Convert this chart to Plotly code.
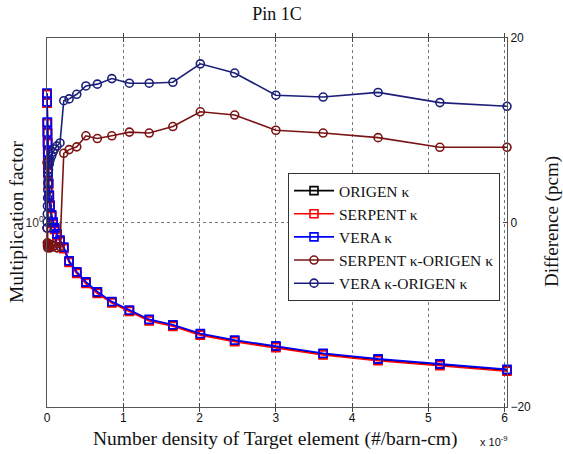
import plotly.graph_objects as go

# Number density (units of 1e-9 #/barn-cm)
density = [0, 0.002, 0.004, 0.006, 0.008, 0.01, 0.012, 0.015, 0.02, 0.03, 0.04, 0.06, 0.08,
           0.1, 0.13, 0.17, 0.22, 0.29, 0.39, 0.51, 0.66, 0.85, 1.08, 1.34, 1.65, 2.01,
           2.46, 3.0, 3.62, 4.34, 5.15, 6.03]

k_vera = [1.627, 1.574, 1.458, 1.405, 1.353, 1.303, 1.255, 1.209, 1.160, 1.109, 1.068, 1.029,
          1.002, 0.980, 0.958, 0.936, 0.912, 0.866, 0.831, 0.800, 0.771, 0.743, 0.720, 0.695,
          0.681, 0.659, 0.643, 0.629, 0.612, 0.599, 0.588, 0.576]
k_serpent = [1.617, 1.565, 1.449, 1.397, 1.345, 1.295, 1.247, 1.202, 1.153, 1.102, 1.062, 1.023,
             0.996, 0.974, 0.952, 0.930, 0.906, 0.861, 0.826, 0.795, 0.766, 0.739, 0.716, 0.691,
             0.677, 0.655, 0.639, 0.625, 0.608, 0.595, 0.584, 0.572]
k_origen = [1.622, 1.569, 1.454, 1.401, 1.349, 1.299, 1.251, 1.205, 1.157, 1.106, 1.065, 1.026,
            0.999, 0.977, 0.955, 0.933, 0.909, 0.863, 0.828, 0.798, 0.769, 0.741, 0.718, 0.693,
            0.679, 0.657, 0.641, 0.627, 0.610, 0.597, 0.586, 0.574]

diff_serpent = [6.5, -0.6, -2.2, -2.55, -2.3, -2.75, -2.4, -2.6, -2.3, -2.55, -2.75, -2.4, -2.6,
                -2.5, -2.75, -2.6, 7.5, 7.9, 8.2, 9.4, 9.1, 9.4, 9.8, 9.7, 10.4, 12.0, 11.65,
                10.0, 9.7, 9.2, 8.15, 8.15]
diff_vera = [-0.6, 0.05, 0.92, 1.79, 2.66, 3.52, 4.28, 5.04, 5.69, 6.34, 6.78, 7.21, 7.64,
             7.97, 8.29, 8.62, 13.2, 13.4, 13.9, 14.8, 15.0, 15.6, 15.1, 15.1, 15.2, 17.2, 16.2,
             13.8, 13.6, 14.1, 13.0, 12.6]

SERIF = "Liberation Serif, Times New Roman, serif"
SANS = "Liberation Sans, Arial, sans-serif"

fig = go.Figure()

def add_k(y, name, color):
    fig.add_trace(go.Scatter(x=density, y=y, name=name, mode="lines+markers", cliponaxis=False,
                             line=dict(color=color, width=1.6),
                             marker=dict(symbol="square-open", size=8, color=color,
                                         line=dict(width=1.6, color=color))))

def add_d(y, name, color):
    fig.add_trace(go.Scatter(x=density, y=y, name=name, mode="lines+markers", yaxis="y2",
                             cliponaxis=False,
                             line=dict(color=color, width=1.6),
                             marker=dict(symbol="circle-open", size=8, color=color,
                                         line=dict(width=1.6, color=color))))

add_k(k_origen, "ORIGEN κ", "#000000")
add_k(k_serpent, "SERPENT κ", "#ff0000")
add_k(k_vera, "VERA κ", "#0000ff")
add_d(diff_serpent, "SERPENT κ-ORIGEN κ", "#7a1414")
add_d(diff_vera, "VERA κ-ORIGEN κ", "#1c1f78")

L, R, T, B = 47, 56, 38, 47
W, H = 563, 454
pw, ph = W - L - R, H - T - B

def px(x):
    return (x - L) / pw

def py(y):
    return (H - B - y) / ph

fig.update_layout(
    width=W, height=H,
    margin=dict(l=L, r=R, t=T, b=B),
    plot_bgcolor="white", paper_bgcolor="white",
    showlegend=True,
    title=dict(text="Pin 1C", x=0.5, xref="paper", y=1 - 14 / H, yref="container",
               xanchor="center", yanchor="middle",
               font=dict(family=SERIF, size=18, color="#111")),
    xaxis=dict(range=[0, 6.03], tickvals=[0, 1, 2, 3, 4, 5, 6], ticks="inside", ticklen=4,
               showline=True, linecolor="#555", linewidth=1, mirror="allticks",
               showgrid=True, gridcolor="#777", griddash="dot", gridwidth=1,
               zeroline=False, tickfont=dict(family=SANS, size=12, color="#111")),
    yaxis=dict(type="log", range=[-0.30103, 0.30103], tickvals=[1], ticktext=["10<sup>0</sup>"],
               ticks="inside", ticklen=4,
               showline=True, linecolor="#555", linewidth=1, mirror=True,
               showgrid=True, gridcolor="#777", griddash="dot", gridwidth=1,
               zeroline=False, tickfont=dict(family=SANS, size=12, color="#333")),
    yaxis2=dict(range=[-20, 20], overlaying="y", side="right", tickvals=[-20, 0, 20],
                ticks="inside", ticklen=4, showline=True, linecolor="#555", linewidth=1,
                showgrid=False, zeroline=False,
                tickfont=dict(family=SANS, size=12, color="#111")),
    legend=dict(x=px(288), y=py(173), xanchor="left", yanchor="top",
                bgcolor="white", bordercolor="#333", borderwidth=1,
                font=dict(family=SERIF, size=15.5, color="#111"),
                itemwidth=40),
    annotations=[
        dict(text="Number density of Target element (#/barn-cm)", xref="paper", yref="paper",
             x=px(275), y=py(439), showarrow=False, xanchor="center", yanchor="middle",
             font=dict(family=SERIF, size=19.5, color="#111")),
        dict(text="x 10<sup>-9</sup>", xref="paper", yref="paper",
             x=px(494), y=py(441), showarrow=False, xanchor="center", yanchor="middle",
             font=dict(family=SANS, size=11, color="#111")),
        dict(text="Multiplication factor", xref="paper", yref="paper", textangle=-90,
             x=px(16), y=py(222), showarrow=False, xanchor="center", yanchor="middle",
             font=dict(family=SERIF, size=19.5, color="#111")),
        dict(text="Difference (pcm)", xref="paper", yref="paper", textangle=-90,
             x=px(552), y=py(222), showarrow=False, xanchor="center", yanchor="middle",
             font=dict(family=SERIF, size=19, color="#111")),
    ],
)

fig.write_html("out.html", config={"displayModeBar": False},
               post_script="document.body.style.margin='0';document.body.style.padding='0';")
